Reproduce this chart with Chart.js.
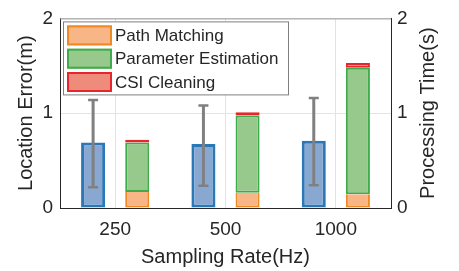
<!DOCTYPE html>
<html>
<head>
<meta charset="utf-8">
<script src="https://cdn.jsdelivr.net/npm/chart.js@4.4.1/dist/chart.umd.min.js"></script>
<style>
html,body{margin:0;padding:0;background:#fff;}
#wrap{width:459px;height:271px;}
</style>
</head>
<body>
<div id="wrap"><canvas id="chart" width="459" height="271"></canvas></div>
<script>
// data
const rates = ['250', '500', '1000'];
const locError = [0.69, 0.675, 0.71];
const errLow = [0.22, 0.235, 0.24];
const errHigh = [1.14, 1.08, 1.16];
const pathMatching = [0.17, 0.16, 0.145];
const paramEstimation = [0.52, 0.815, 1.335];
const csiCleaning = [0.03, 0.035, 0.05];
const legendNames = ['Path Matching', 'Parameter Estimation', 'CSI Cleaning'];

const FONT = "'Liberation Sans', Arial, sans-serif";
const TXT = '#262626';

//error bars on the blue bars
const errorBars = {
  id: 'errorBars',
  afterDatasetsDraw(chart) {
    const meta = chart.getDatasetMeta(0);
    const y = chart.scales.y;
    const ctx = chart.ctx;
    ctx.save();
    ctx.strokeStyle = '#808080';
    meta.data.forEach((bar, i) => {
      const yl = y.getPixelForValue(errLow[i]);
      const yh = y.getPixelForValue(errHigh[i]);
      ctx.lineWidth = 3;
      ctx.beginPath();
      ctx.moveTo(bar.x, yl);
      ctx.lineTo(bar.x, yh);
      ctx.stroke();
      ctx.lineWidth = 2.5;
      ctx.beginPath();
      ctx.moveTo(bar.x - 5, yl); ctx.lineTo(bar.x + 5, yl);
      ctx.moveTo(bar.x - 5, yh); ctx.lineTo(bar.x + 5, yh);
      ctx.stroke();
    });
    ctx.restore();
  }
};

// legend box inside the plot, top border, right axis title
const boxLegend = {
  id: 'boxLegend',
  afterDraw(chart) {
    const ctx = chart.ctx;
    const a = chart.chartArea;
    ctx.save();
    ctx.strokeStyle = '#9a9a9a';
    ctx.lineWidth = 1;
    ctx.beginPath();
    ctx.moveTo(a.left, a.top + 0.5);
    ctx.lineTo(a.right, a.top + 0.5);
    ctx.stroke();

    const lx = a.left + 3, ly = a.top + 3, lw = 225, lh = 73;
    ctx.fillStyle = '#fff';
    ctx.fillRect(lx, ly, lw, lh);
    ctx.strokeStyle = '#7f7f7f';
    ctx.strokeRect(lx + 0.5, ly + 0.5, lw, lh);
    const ds = chart.data.datasets.slice(1);
    ctx.font = '17px ' + FONT;
    ctx.textBaseline = 'middle';
    ds.forEach((d, i) => {
      const sy = ly + 4 + i * 23.3;
      ctx.fillStyle = d.backgroundColor;
      ctx.fillRect(lx + 4, sy, 45, 20);
      ctx.strokeStyle = d.borderColor;
      ctx.lineWidth = 2;
      ctx.strokeRect(lx + 5, sy + 1, 43, 18);
      ctx.fillStyle = TXT;
      ctx.fillText(legendNames[i], lx + 52, sy + 11);
    });

    // right title reads bottom to top
    ctx.translate(a.right + 37, (a.top + a.bottom) / 2);
    ctx.rotate(-Math.PI / 2);
    ctx.font = '20px ' + FONT;
    ctx.textAlign = 'center';
    ctx.textBaseline = 'middle';
    ctx.fillStyle = TXT;
    ctx.fillText('Processing Time(s)', 0, 0);
    ctx.restore();
  }
};

new Chart(document.getElementById('chart'), {
  type: 'bar',
  data: {
    labels: rates,
    datasets: [
      { label: 'Location Error', data: locError, yAxisID: 'y', stack: 'err',
        backgroundColor: '#88a8d2', borderColor: '#2a78b8', borderWidth: 3, borderSkipped: false },
      { label: legendNames[0], data: pathMatching, yAxisID: 'y2', stack: 'time',
        backgroundColor: '#f8b586', borderColor: '#f08826', borderWidth: 2, borderSkipped: 'end' },
      { label: legendNames[1], data: paramEstimation, yAxisID: 'y2', stack: 'time',
        backgroundColor: '#98c98c', borderColor: '#3fab4a', borderWidth: 2, borderSkipped: false },
      { label: legendNames[2], data: csiCleaning, yAxisID: 'y2', stack: 'time',
        backgroundColor: '#ee8b7a', borderColor: '#e6262c', borderWidth: 2, borderSkipped: false }
    ]
  },
  options: {
    responsive: false,
    animation: false,
    categoryPercentage: 0.8,
    barPercentage: 0.545,
    layout: { padding: { top: 17, left: 0, right: 0, bottom: 0 } },
    plugins: { legend: { display: false }, tooltip: { enabled: false } },
    scales: {
      x: {
        grid: { offset: false, color: '#e3e3e3', drawTicks: false },
        border: { color: TXT, width: 1 },
        ticks: { color: TXT, font: { family: FONT, size: 19 }, padding: 10 },
        title: { display: true, text: 'Sampling Rate(Hz)', color: TXT,
          font: { family: FONT, size: 20 }, padding: { top: 0, bottom: 2 } },
        afterFit: s => { s.height = 63; }
      },
      y: {
        position: 'left', min: 0, max: 2, stacked: true,
        grid: { color: '#e3e3e3', drawTicks: false },
        border: { color: TXT, width: 1 },
        ticks: { stepSize: 1, color: TXT, font: { family: FONT, size: 19 }, padding: 7 },
        title: { display: true, text: 'Location Error(m)', color: TXT,
          font: { family: FONT, size: 20 }, padding: { top: 14, bottom: 0 } },
        afterFit: s => { s.width = 60; }
      },
      y2: {
        position: 'right', min: 0, max: 2, stacked: true,
        grid: { drawOnChartArea: false, drawTicks: false },
        border: { color: TXT, width: 1 },
        ticks: { stepSize: 1, color: TXT, font: { family: FONT, size: 19 }, padding: 6 },
        afterFit: s => { s.width = 68; }
      }
    }
  },
  plugins: [errorBars, boxLegend]
});
</script>
</body>
</html>
